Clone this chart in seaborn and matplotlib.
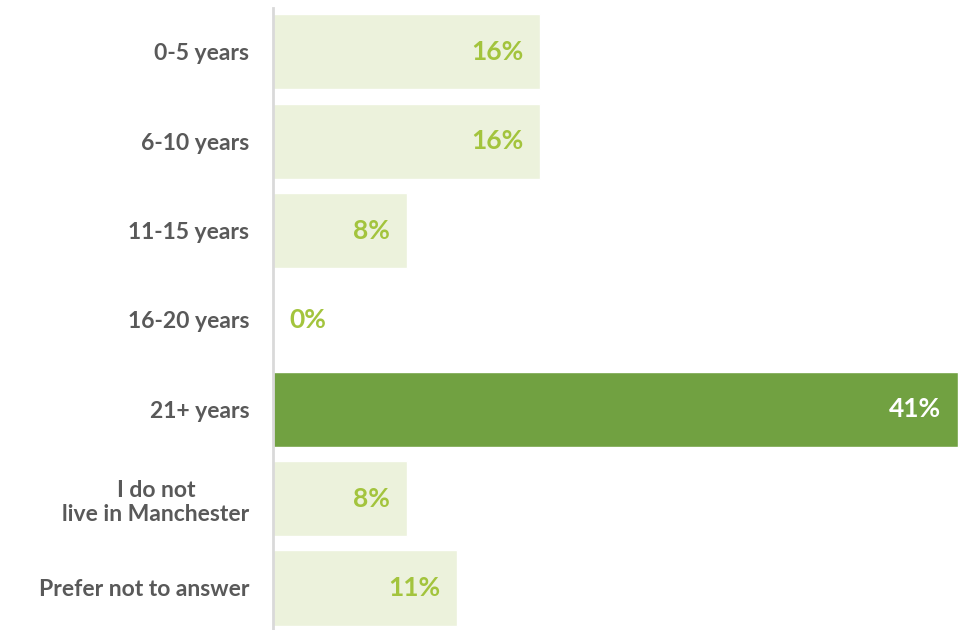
import pandas as pd
import matplotlib.pyplot as plt
import seaborn as sns

# ==========================================
# Data
# ==========================================

categories = [
    "0-5 years",
    "6-10 years",
    "11-15 years",
    "16-20 years",
    "21+ years",
    "I do not\nlive in Manchester",
    "Prefer not to answer",
]
values = [16, 16, 8, 0, 41, 8, 11]
highlight = "21+ years"

data = pd.DataFrame({"category": categories, "value": values})

light_bar = "#ECF2DC"
dark_bar = "#71A141"
label_green = "#A3C43D"
text_gray = "#595959"

palette = {c: (dark_bar if c == highlight else light_bar) for c in categories}

# ==========================================
# Plot
# ==========================================

sns.set_style("white")
plt.rcParams["font.family"] = ["Lato", "DejaVu Sans"]

fig = plt.figure(figsize=(9.63, 6.3), dpi=100)
ax = fig.add_axes([273 / 963, 0, 1 - 273 / 963, 622 / 630])

sns.barplot(
    data=data,
    x="value",
    y="category",
    hue="category",
    palette=palette,
    saturation=1,
    orient="h",
    width=0.84,
    legend=False,
    ax=ax,
)

ax.set_xlim(0, 41.3)
ax.set_ylim(6.47, -0.49)
ax.set_xlabel("")
ax.set_ylabel("")
ax.set_xticks([])

for side in ["top", "right", "bottom"]:
    ax.spines[side].set_visible(False)
ax.spines["left"].set_color("#D9D9D9")
ax.spines["left"].set_linewidth(2)

ax.tick_params(axis="y", length=0, pad=17)
for tick in ax.get_yticklabels():
    tick.set_fontsize(16.5)
    tick.set_fontweight("bold")
    tick.set_color(text_gray)
    tick.set_horizontalalignment("right")
    tick.set_multialignment("center")

# value labels
for i, (cat, val) in enumerate(zip(categories, values)):
    color = "white" if cat == highlight else label_green
    if val == 0:
        ax.annotate(f"{val}%", xy=(val, i), xytext=(12, 0),
                    textcoords="offset points", ha="left", va="center",
                    fontsize=19, fontweight="bold", color=color)
    else:
        ax.annotate(f"{val}%", xy=(val, i), xytext=(-12, 0),
                    textcoords="offset points", ha="right", va="center",
                    fontsize=19, fontweight="bold", color=color)

plt.savefig("out.png", dpi=100)
